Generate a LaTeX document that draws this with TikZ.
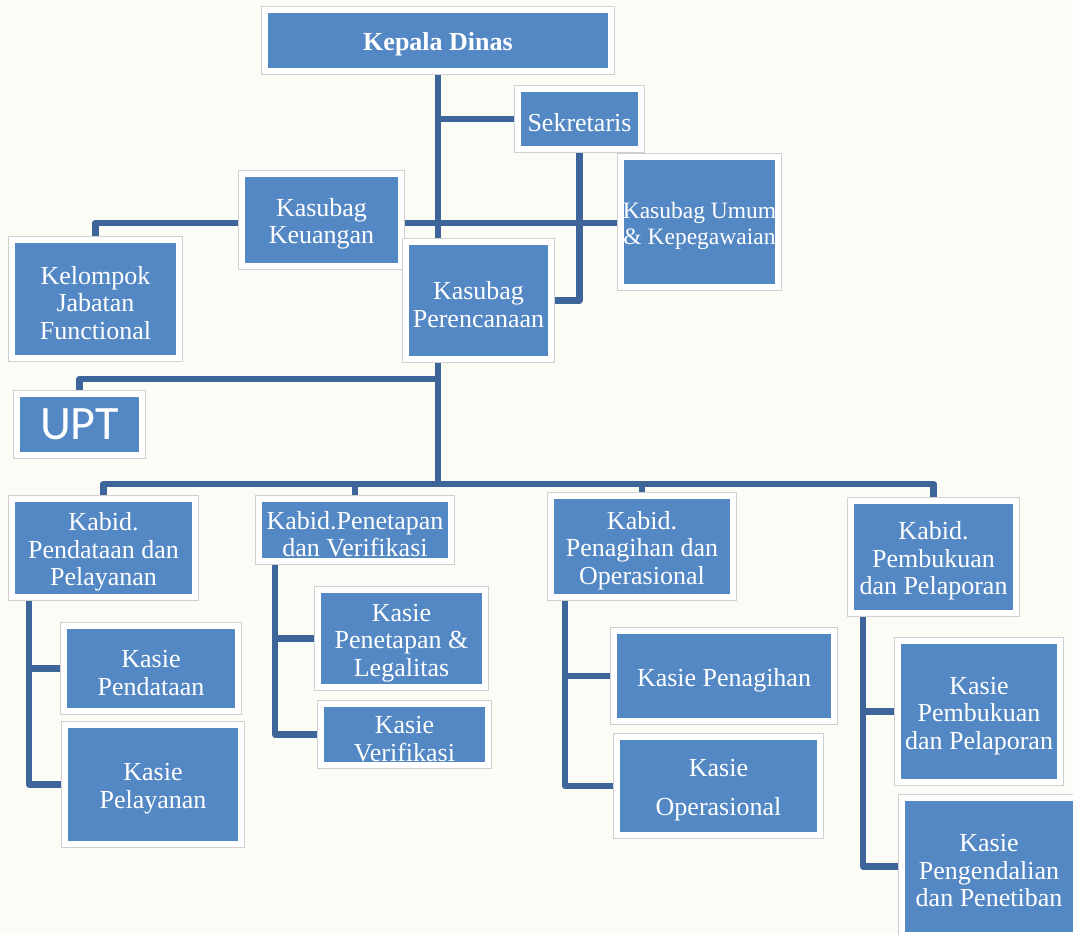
\documentclass[tikz,border=0pt]{standalone}
\usepackage{fontspec}
\setmainfont{Liberation Serif}
\newfontfamily\uptfont{Carlito}
\definecolor{boxblue}{RGB}{84,136,196}
\definecolor{connblue}{RGB}{61,101,154}
\definecolor{framegray}{RGB}{208,208,208}
\definecolor{bgcream}{RGB}{252,252,247}
\newcommand{\tstrut}{\rule{0pt}{26pt}}
\pgfdeclarelayer{back}
\pgfdeclarelayer{bg}
\pgfsetlayers{back,bg,main}
\begin{document}
\begin{tikzpicture}[x=1pt,y=-1pt,
  orgbox/.style={rectangle, fill=boxblue, draw=white, line width=6pt,
    preaction={draw=framegray, line width=8pt},
    text=white, inner sep=0pt, align=center,
    font=\fontsize{26}{27.5}\selectfont},
  conn/.style={draw=connblue, line width=6.5pt, line join=round}]
\useasboundingbox (0,0) rectangle (1073,934);
\begin{pgfonlayer}{back}
  \fill[bgcream] (0,0) rectangle (1073,934);
\end{pgfonlayer}
\clip (0,0) rectangle (1073,934);

% top part
\node[orgbox, minimum width=346pt, minimum height=61pt, font=\fontsize{26}{27.5}\selectfont\bfseries] (kd) at (438,40.5) {\tstrut Kepala Dinas};
\node[orgbox, minimum width=123pt, minimum height=60pt] (sek) at (579.5,119) {\tstrut Sekretaris};
\node[orgbox, minimum width=159pt, minimum height=92pt] (keu) at (321.5,220) {\tstrut Kasubag\\Keuangan};
\node[orgbox, minimum width=157pt, minimum height=130pt, font=\fontsize{23.5}{26}\selectfont] (umum) at (699.5,222) {\rule{0pt}{24pt}Kasubag Umum\\\& Kepegawaian};
\node[orgbox, minimum width=167pt, minimum height=118pt] (kjf) at (95.5,299) {\tstrut Kelompok\\Jabatan\\Functional};
\node[orgbox, minimum width=145pt, minimum height=117pt] (kp) at (478.5,300.5) {\tstrut Kasubag\\Perencanaan};
\node[orgbox, minimum width=125pt, minimum height=61pt, font=\fontsize{48}{50}\uptfont] (upt) at (79.5,424.5) {UPT};

% kabid
\node[orgbox, minimum width=183pt, minimum height=98pt] (kb1) at (103.5,548) {\tstrut Kabid.\\Pendataan dan\\Pelayanan};
\node[orgbox, minimum width=192pt, minimum height=62pt] (kb2) at (355,530) {\tstrut Kabid.Penetapan\\dan Verifikasi};
\node[orgbox, minimum width=182pt, minimum height=101pt] (kb3) at (642,546.5) {\tstrut Kabid.\\Penagihan dan\\Operasional};
\node[orgbox, minimum width=165pt, minimum height=112pt] (kb4) at (933.5,557) {\tstrut Kabid.\\Pembukuan\\dan Pelaporan};

% kasie
\node[orgbox, minimum width=174pt, minimum height=85pt] (ks1) at (151,668.5) {\tstrut Kasie\\Pendataan};
\node[orgbox, minimum width=176pt, minimum height=119pt] (ks2) at (153,784.5) {\tstrut Kasie\\Pelayanan};
\node[orgbox, minimum width=167pt, minimum height=97pt] (ks3) at (401.5,638.5) {\tstrut Kasie\\Penetapan \&\\Legalitas};
\node[orgbox, minimum width=167pt, minimum height=61pt] (ks4) at (404.5,734.5) {\tstrut Kasie\\Verifikasi};
\node[orgbox, minimum width=220pt, minimum height=90pt] (ks5) at (724,676) {\tstrut Kasie Penagihan};
\node[orgbox, minimum width=203pt, minimum height=98pt] (ks6) at (718.5,786) {\tstrut Kasie\\[11pt]Operasional};
\node[orgbox, minimum width=162pt, minimum height=141pt] (ks7) at (979,711.5) {\tstrut Kasie\\Pembukuan\\dan Pelaporan};
\node[orgbox, minimum width=174pt, minimum height=137pt] (ks8) at (989,866.5) {\tstrut Kasie\\Pengendalian\\dan Penetiban};

\coordinate (hub) at (438,484);
\coordinate (uptbar) at (438,379);
\coordinate (midbar) at (95,223);

\begin{pgfonlayer}{bg}
  \draw[conn] (kd.south) -- (hub);
  \draw[conn] (kd.south |- sek.west) -- (sek.west);
  \draw[conn] (sek.south) |- (kp.east);
  \draw[conn] (kjf.north) -- (kjf.north |- midbar) -- (umum.west |- midbar);
  \draw[conn] (uptbar) -| (upt.north);
  \draw[conn] (kb1.north) -- (kb1.north |- hub) -- (kb4.north |- hub) -- (kb4.north);
  \draw[conn] (kb2.north |- hub) -- (kb2.north);
  \draw[conn] (kb3.north |- hub) -- (kb3.north);
  % kasie spines
  \draw[conn] ([xshift=20pt]kb1.south west) |- (ks2.west);
  \draw[conn] ([xshift=20pt]kb1.south west |- ks1.west) -- (ks1.west);
  \draw[conn] ([xshift=19pt]kb2.south west) |- (ks4.west);
  \draw[conn] ([xshift=19pt]kb2.south west |- ks3.west) -- (ks3.west);
  \draw[conn] ([xshift=17pt]kb3.south west) |- (ks6.west);
  \draw[conn] ([xshift=17pt]kb3.south west |- ks5.west) -- (ks5.west);
  \draw[conn] ([xshift=15pt]kb4.south west) |- (ks8.west);
  \draw[conn] ([xshift=15pt]kb4.south west |- ks7.west) -- (ks7.west);
\end{pgfonlayer}
\end{tikzpicture}
\end{document}
